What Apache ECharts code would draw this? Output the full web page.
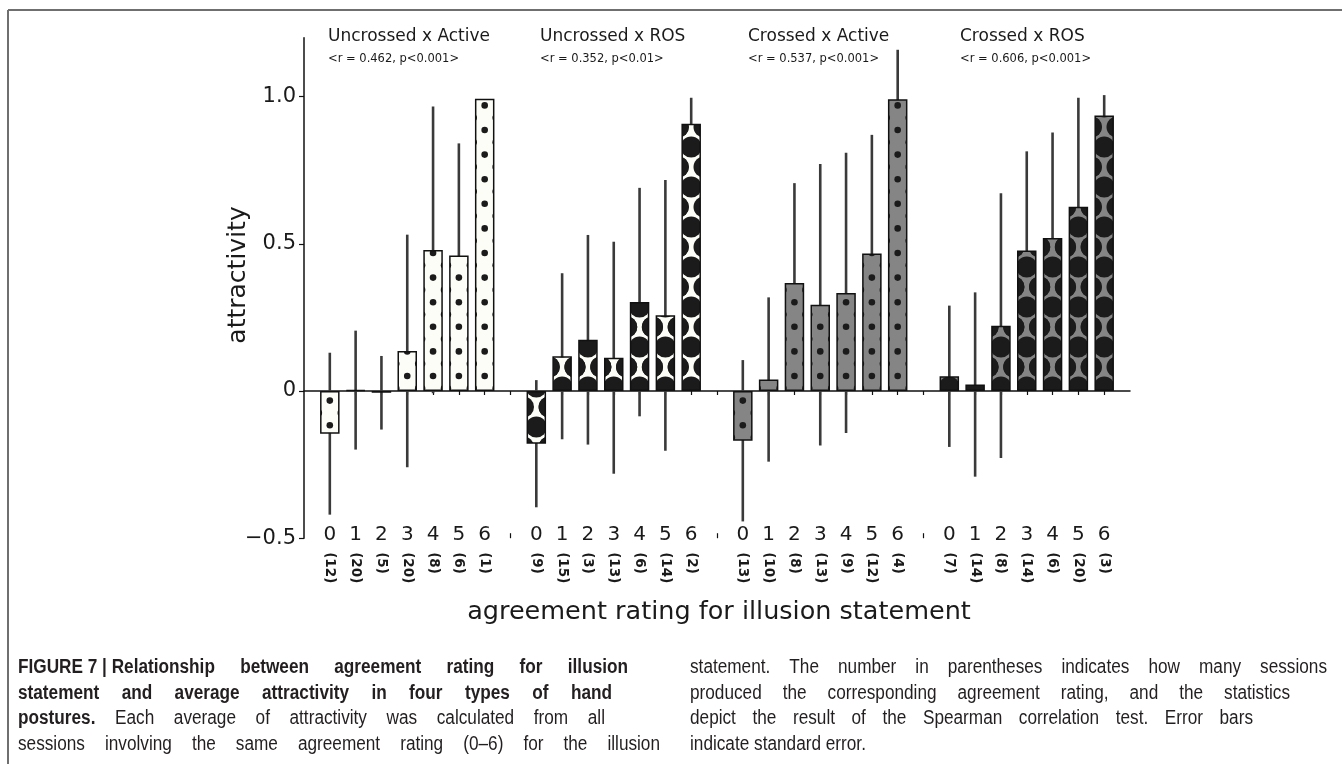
<!DOCTYPE html>
<html>
<head>
<meta charset="utf-8">
<script src="https://cdn.jsdelivr.net/npm/echarts@6/dist/echarts.min.js"></script>
<style>
  html, body { margin: 0; padding: 0; background: #ffffff; }
  #chart { width: 1342px; height: 764px; }
</style>
</head>
<body>
<div id="chart"></div>
<script>
// ---- data -------------------------------------------------------------
const ratings = [0, 1, 2, 3, 4, 5, 6];
const groupNames = ['Uncrossed x Active', 'Uncrossed x ROS', 'Crossed x Active', 'Crossed x ROS'];
const groupStats = ['<r = 0.462, p<0.001>', '<r = 0.352, p<0.01>', '<r = 0.537, p<0.001>', '<r = 0.606, p<0.001>'];

// average attractivity per agreement rating
const meanUncrossedActive = [-0.145, 0.003, -0.006, 0.136, 0.479, 0.460, 0.993];
const meanUncrossedROS    = [-0.179, 0.118, 0.174, 0.113, 0.302, 0.257, 0.908];
const meanCrossedActive   = [-0.169, 0.039, 0.367, 0.293, 0.333, 0.467, 0.991];
const meanCrossedROS      = [0.050, 0.022, 0.222, 0.477, 0.520, 0.626, 0.936];

// standard error per agreement rating
const seUncrossedActive = [0.275, 0.202, 0.125, 0.395, 0.487, 0.381, 0];
const seUncrossedROS    = [0.216, 0.282, 0.356, 0.394, 0.388, 0.460, 0.088];
const seCrossedActive   = [0.274, 0.279, 0.339, 0.478, 0.476, 0.403, 0.168];
const seCrossedROS      = [0.240, 0.313, 0.450, 0.337, 0.358, 0.370, 0.069];

// number of sessions per agreement rating
const nUncrossedActive = [12, 20, 5, 20, 8, 6, 1];
const nUncrossedROS    = [9, 15, 3, 13, 6, 14, 2];
const nCrossedActive   = [13, 10, 8, 13, 9, 12, 4];
const nCrossedROS      = [7, 14, 8, 14, 6, 20, 3];

const yTickValues = [-0.5, 0, 0.5, 1.0];
const yTickLabels = ['\u22120.5', '0', '0.5', '1.0'];

// ---- layout / style ---------------------------------------------------
const groups = [
  { mean: meanUncrossedActive, se: seUncrossedActive, n: nUncrossedActive },
  { mean: meanUncrossedROS,    se: seUncrossedROS,    n: nUncrossedROS },
  { mean: meanCrossedActive,   se: seCrossedActive,   n: nCrossedActive },
  { mean: meanCrossedROS,      se: seCrossedROS,      n: nCrossedROS }
];
const groupLook = [
  { bg: '#fdfdf7', dots: 'small' },
  { bg: '#fdfdf7', dots: 'big' },
  { bg: '#858585', dots: 'small' },
  { bg: '#858585', dots: 'big' }
];
const titleLeft = [328, 540, 748, 960];
const SLOTS_PER_GROUP = 8;
const FONT = '"DejaVu Sans", Verdana, sans-serif';

// slot position of each bar along the x axis (gap slot between postures)
function slotOf(gi, i) { return gi * SLOTS_PER_GROUP + 1 + i; }

const barPositions = [];
const labelText = {};
const countText = {};
groups.forEach((g, gi) => {
  ratings.forEach((r, i) => {
    const p = slotOf(gi, i);
    barPositions.push(p);
    labelText[p] = String(r);
    countText[p] = '(' + g.n[i] + ')';
  });
});
const gapPositions = [8, 16, 24];
const allTicks = [];
for (let v = 1; v < 32; v++) allTicks.push(v);

function barData(patterns) {
  const out = [];
  groups.forEach((g, gi) => {
    g.mean.forEach((m, i) => {
      out.push({
        value: [slotOf(gi, i), m],
        itemStyle: {
          color: patterns ? patterns[gi] : groupLook[gi].bg,
          borderColor: '#111111',
          borderWidth: 1.5
        }
      });
    });
  });
  return out;
}

const errData = [];
groups.forEach((g, gi) => {
  g.mean.forEach((m, i) => {
    if (g.se[i] > 0) errData.push([slotOf(gi, i), m - g.se[i], m + g.se[i]]);
  });
});

// ---- caption -------------------------------------------------------------
const CAP_SIZE = 20;
const CAP_SX = 0.86;
const captionLines = [
  { segs: [{ t: 'FIGURE\u00a07\u00a0|\u00a0Relationship between agreement rating for illusion', b: true }], x0: 18, x1: 628, y: 667, justify: true },
  { segs: [{ t: 'statement and average attractivity in four types of hand', b: true }], x0: 18, x1: 612, y: 693, justify: true },
  { segs: [{ t: 'postures.', b: true }, { t: 'Each average of attractivity was calculated from all', b: false }], x0: 18, x1: 605, y: 718, justify: true },
  { segs: [{ t: 'sessions involving the same agreement rating (0\u20136) for the illusion', b: false }], x0: 18, x1: 660, y: 744, justify: true },
  { segs: [{ t: 'statement. The number in parentheses indicates how many sessions', b: false }], x0: 690, x1: 1327, y: 667, justify: true },
  { segs: [{ t: 'produced the corresponding agreement rating, and the statistics', b: false }], x0: 690, x1: 1290, y: 693, justify: true },
  { segs: [{ t: 'depict the result of the Spearman correlation test. Error bars', b: false }], x0: 690, x1: 1253, y: 718, justify: true },
  { segs: [{ t: 'indicate standard error.', b: false }], x0: 690, x1: 0, y: 744, justify: false }
];

const measureCtx = document.createElement('canvas').getContext('2d');
function capFont(bold) {
  return (bold ? 'bold ' : '') + CAP_SIZE + 'px "Liberation Sans", Arial, sans-serif';
}
function captionElements() {
  const els = [];
  captionLines.forEach(line => {
    const words = [];
    line.segs.forEach(s => s.t.split(' ').forEach(w => { if (w) words.push({ w: w, b: s.b }); }));
    words.forEach(o => {
      measureCtx.font = capFont(o.b);
      o.width = measureCtx.measureText(o.w).width * CAP_SX;
    });
    measureCtx.font = capFont(false);
    const space = measureCtx.measureText(' ').width * CAP_SX;
    const total = words.reduce((a, o) => a + o.width, 0);
    let gap = space;
    if (line.justify && words.length > 1) gap = Math.max(space * 0.8, (line.x1 - line.x0 - total) / (words.length - 1));
    let x = line.x0;
    words.forEach(o => {
      els.push({
        type: 'text', x: x, y: line.y, scaleX: CAP_SX, silent: true,
        style: {
          text: o.w, x: 0, y: 0, font: capFont(o.b), fill: '#231f20',
          align: 'left', textAlign: 'left', verticalAlign: 'middle', textVerticalAlign: 'middle'
        }
      });
      x += o.width + gap;
    });
  });
  return els;
}

function textEl(x, y, text, size, opts) {
  opts = opts || {};
  return {
    type: 'text', x: x, y: y, rotation: opts.rotation || 0, silent: true,
    style: {
      text: text, x: 0, y: 0, font: size + 'px ' + FONT, fill: '#1a1a1a',
      align: opts.align || 'left', textAlign: opts.align || 'left',
      verticalAlign: 'middle', textVerticalAlign: 'middle'
    }
  };
}

const graphics = [
  // figure frame
  { type: 'line', silent: true, shape: { x1: 8, y1: 10, x2: 1342, y2: 10 }, style: { stroke: '#6f6f6f', lineWidth: 2 } },
  { type: 'line', silent: true, shape: { x1: 8, y1: 10, x2: 8, y2: 764 }, style: { stroke: '#6f6f6f', lineWidth: 2 } },
  textEl(238, 275, 'attractivity', 25, { align: 'center', rotation: Math.PI / 2 }),
  textEl(719, 612, 'agreement rating for illusion statement', 25.5, { align: 'center' })
];
groupNames.forEach((name, gi) => {
  graphics.push(textEl(titleLeft[gi], 37, name, 17));
  graphics.push(textEl(titleLeft[gi], 59, groupStats[gi], 11.5));
});
captionElements().forEach(e => graphics.push(e));

const axisLabelBase = { fontFamily: FONT, color: '#1a1a1a' };

const option = {
  animation: false,
  backgroundColor: '#ffffff',
  textStyle: { fontFamily: FONT },
  grid: { left: 304, right: 212, top: 37.7, bottom: 225.8, containLabel: false },
  xAxis: [
    { // zero line with ticks
      type: 'value', min: 0, max: 32, position: 'bottom',
      axisLine: { show: true, onZero: true, lineStyle: { color: '#111111', width: 1.5 } },
      axisTick: { show: true, customValues: allTicks, length: 4, lineStyle: { color: '#111111', width: 1.2 } },
      axisLabel: { show: false }, splitLine: { show: false }
    },
    { // rating digits
      type: 'value', min: 0, max: 32, position: 'bottom',
      axisLine: { show: false, onZero: false }, axisTick: { show: false }, splitLine: { show: false },
      axisLabel: Object.assign({
        customValues: barPositions, fontSize: 20, margin: -3, verticalAlign: 'middle',
        formatter: v => labelText[Math.round(v)] || ''
      }, axisLabelBase)
    },
    { // session counts
      type: 'value', min: 0, max: 32, position: 'bottom',
      axisLine: { show: false, onZero: false }, axisTick: { show: false }, splitLine: { show: false },
      axisLabel: Object.assign({
        customValues: barPositions, fontSize: 13.5, fontWeight: 'bold', margin: 14, rotate: -90,
        formatter: v => countText[Math.round(v)] || ''
      }, axisLabelBase)
    },
    { // upward ticks between postures
      type: 'value', min: 0, max: 32, position: 'bottom',
      axisLine: { show: false, onZero: true },
      axisTick: { show: true, inside: true, customValues: gapPositions, length: 5, lineStyle: { color: '#111111', width: 1.2 } },
      axisLabel: { show: false }, splitLine: { show: false }
    }
  ],
  yAxis: {
    type: 'value', min: -0.5, max: 1.2,
    axisLine: { show: true, lineStyle: { color: '#111111', width: 1.5 } },
    axisTick: { show: true, customValues: yTickValues, length: 5, lineStyle: { color: '#111111', width: 1.2 } },
    axisLabel: Object.assign({
      customValues: yTickValues, fontSize: 21, margin: 8,
      formatter: v => { const k = yTickValues.findIndex(t => Math.abs(t - v) < 1e-9); return k >= 0 ? yTickLabels[k] : ''; }
    }, axisLabelBase),
    splitLine: { show: false }
  },
  series: [
    {
      id: 'errors', type: 'custom', xAxisIndex: 0, yAxisIndex: 0, z: 1, clip: false,
      data: errData,
      encode: { x: 0, y: [1, 2] },
      renderItem: (params, api) => {
        const x = api.value(0);
        const a = api.coord([x, api.value(1)]);
        const b = api.coord([x, api.value(2)]);
        return {
          type: 'line',
          shape: { x1: a[0], y1: a[1], x2: b[0], y2: b[1] },
          style: { stroke: '#3a3a3a', lineWidth: 2.6 }
        };
      }
    },
    {
      id: 'bars', type: 'bar', xAxisIndex: 0, yAxisIndex: 0, z: 2,
      barWidth: 19.5,
      data: barData(null)
    }
  ],
  graphic: { elements: graphics }
};

const chart = echarts.init(document.getElementById('chart'), null, { renderer: 'canvas' });
chart.setOption(option);

// ---- dotted fills, laid out on the axis grid ----------------------------
function dotFill(kind, bg, W, H, centers, y0) {
  const c = document.createElement('canvas');
  c.width = W; c.height = H;
  const ctx = c.getContext('2d');
  ctx.fillStyle = bg;
  ctx.fillRect(0, 0, W, H);
  ctx.fillStyle = '#1b1b1b';
  const small = kind === 'small';
  const r = small ? 3.3 : 10.6;
  const rowStep = small ? 24.6 : 40;
  const base = small ? 15 : 4;
  const colStep = small ? 11 : 12.9;
  centers.forEach(xc => {
    for (let k = -1; k <= 1; k++) {
      const x = xc + k * colStep;
      const off = base + (k !== 0 ? rowStep / 2 : 0);
      let y = y0 - off;
      while (y < H + r) y += rowStep;
      for (; y > -r; y -= rowStep) {
        ctx.beginPath();
        ctx.arc(x, y, r, 0, Math.PI * 2);
        ctx.fill();
      }
    }
  });
  return { image: c, repeat: 'no-repeat' };
}

const y0 = chart.convertToPixel({ yAxisIndex: 0 }, 0);
const W = chart.getWidth(), H = chart.getHeight();
const fills = groupLook.map((l, gi) => {
  const centers = ratings.map((r, i) => chart.convertToPixel({ xAxisIndex: 0 }, slotOf(gi, i)));
  return dotFill(l.dots, l.bg, W, H, centers, y0);
});
chart.setOption({ series: [{ id: 'bars', data: barData(fills) }] });
</script>
</body>
</html>
